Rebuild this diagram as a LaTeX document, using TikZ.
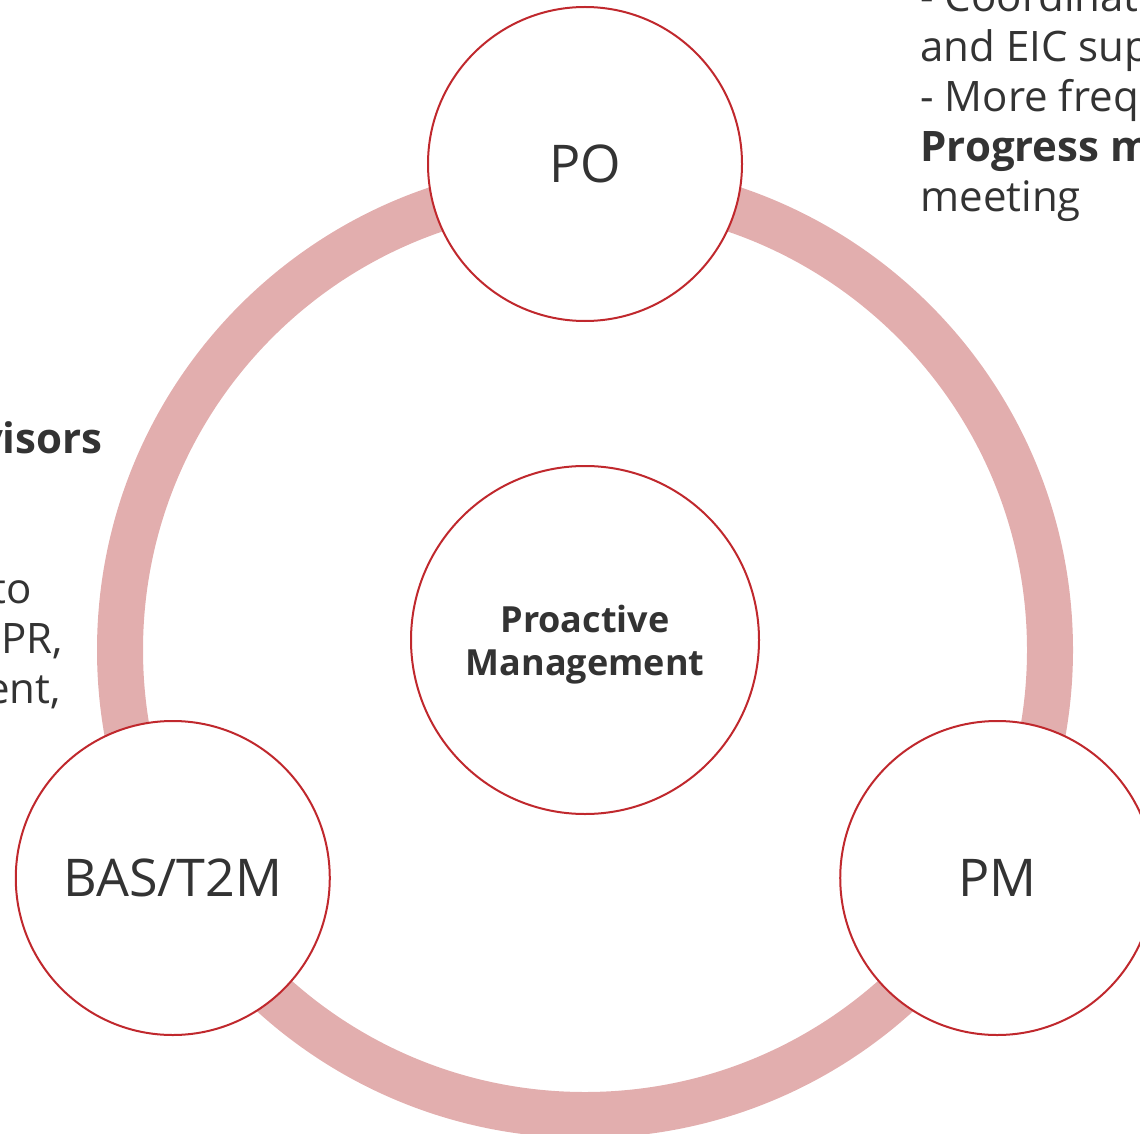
\documentclass[tikz,border=0pt]{standalone}
\usepackage{fontspec}
\setmainfont{Open Sans}
\definecolor{ringred}{HTML}{E2AEAE}
\definecolor{edgered}{HTML}{C0282D}
\definecolor{inkgray}{HTML}{333333}
\begin{document}
\begin{tikzpicture}[x=0.5pt,y=0.5pt,
  role/.style={circle,draw=edgered,line width=1pt,fill=white,minimum size=157pt,
    inner sep=0pt,text=inkgray,text depth=0pt,font=\fontsize{26}{30}\selectfont},
  hubnode/.style={role,minimum size=174pt,align=center,
    font=\fontsize{18}{21.5}\selectfont\bfseries},
  side/.style={text=inkgray,inner sep=0pt,font=\fontsize{21}{25}\selectfont}]
\useasboundingbox (0,0) rectangle (1140,-1134);
\clip (0,0) rectangle (1140,-1134);
% the ring behind the roles
\coordinate (hub) at (585,-640);
\coordinate (ringc) at ([yshift=-5pt]hub);
\draw [ringred,line width=23pt] (ringc) circle (232.5pt);
\node [hubnode] (mgmt) at (hub) {Proactive\\Management};
\node [role] (po) at ([shift={(90:238pt)}]hub) {PO};
\node [role] (bas) at ([shift={(210:238pt)}]hub) {BAS/T2M};
\node [role] (pm) at ([shift={(330:238pt)}]hub) {PM};
% notes cut by the page edge
\node [side,anchor=north west,align=left] (notepo) at (920,21)
  {- Coordinat\\and EIC sup\\- More frequ\\\textbf{Progress m}\\meeting};
\node [side,anchor=base east,font=\fontsize{21}{25}\selectfont\bfseries] (notea) at (103,-453) {visors};
\node [side,anchor=base east] (noteb) at (32,-603) {to};
\node [side,anchor=base east] (notec) at (63,-653) {IPR,};
\node [side,anchor=base east] (noted) at (61,-703) {ent,};
\end{tikzpicture}
\end{document}
